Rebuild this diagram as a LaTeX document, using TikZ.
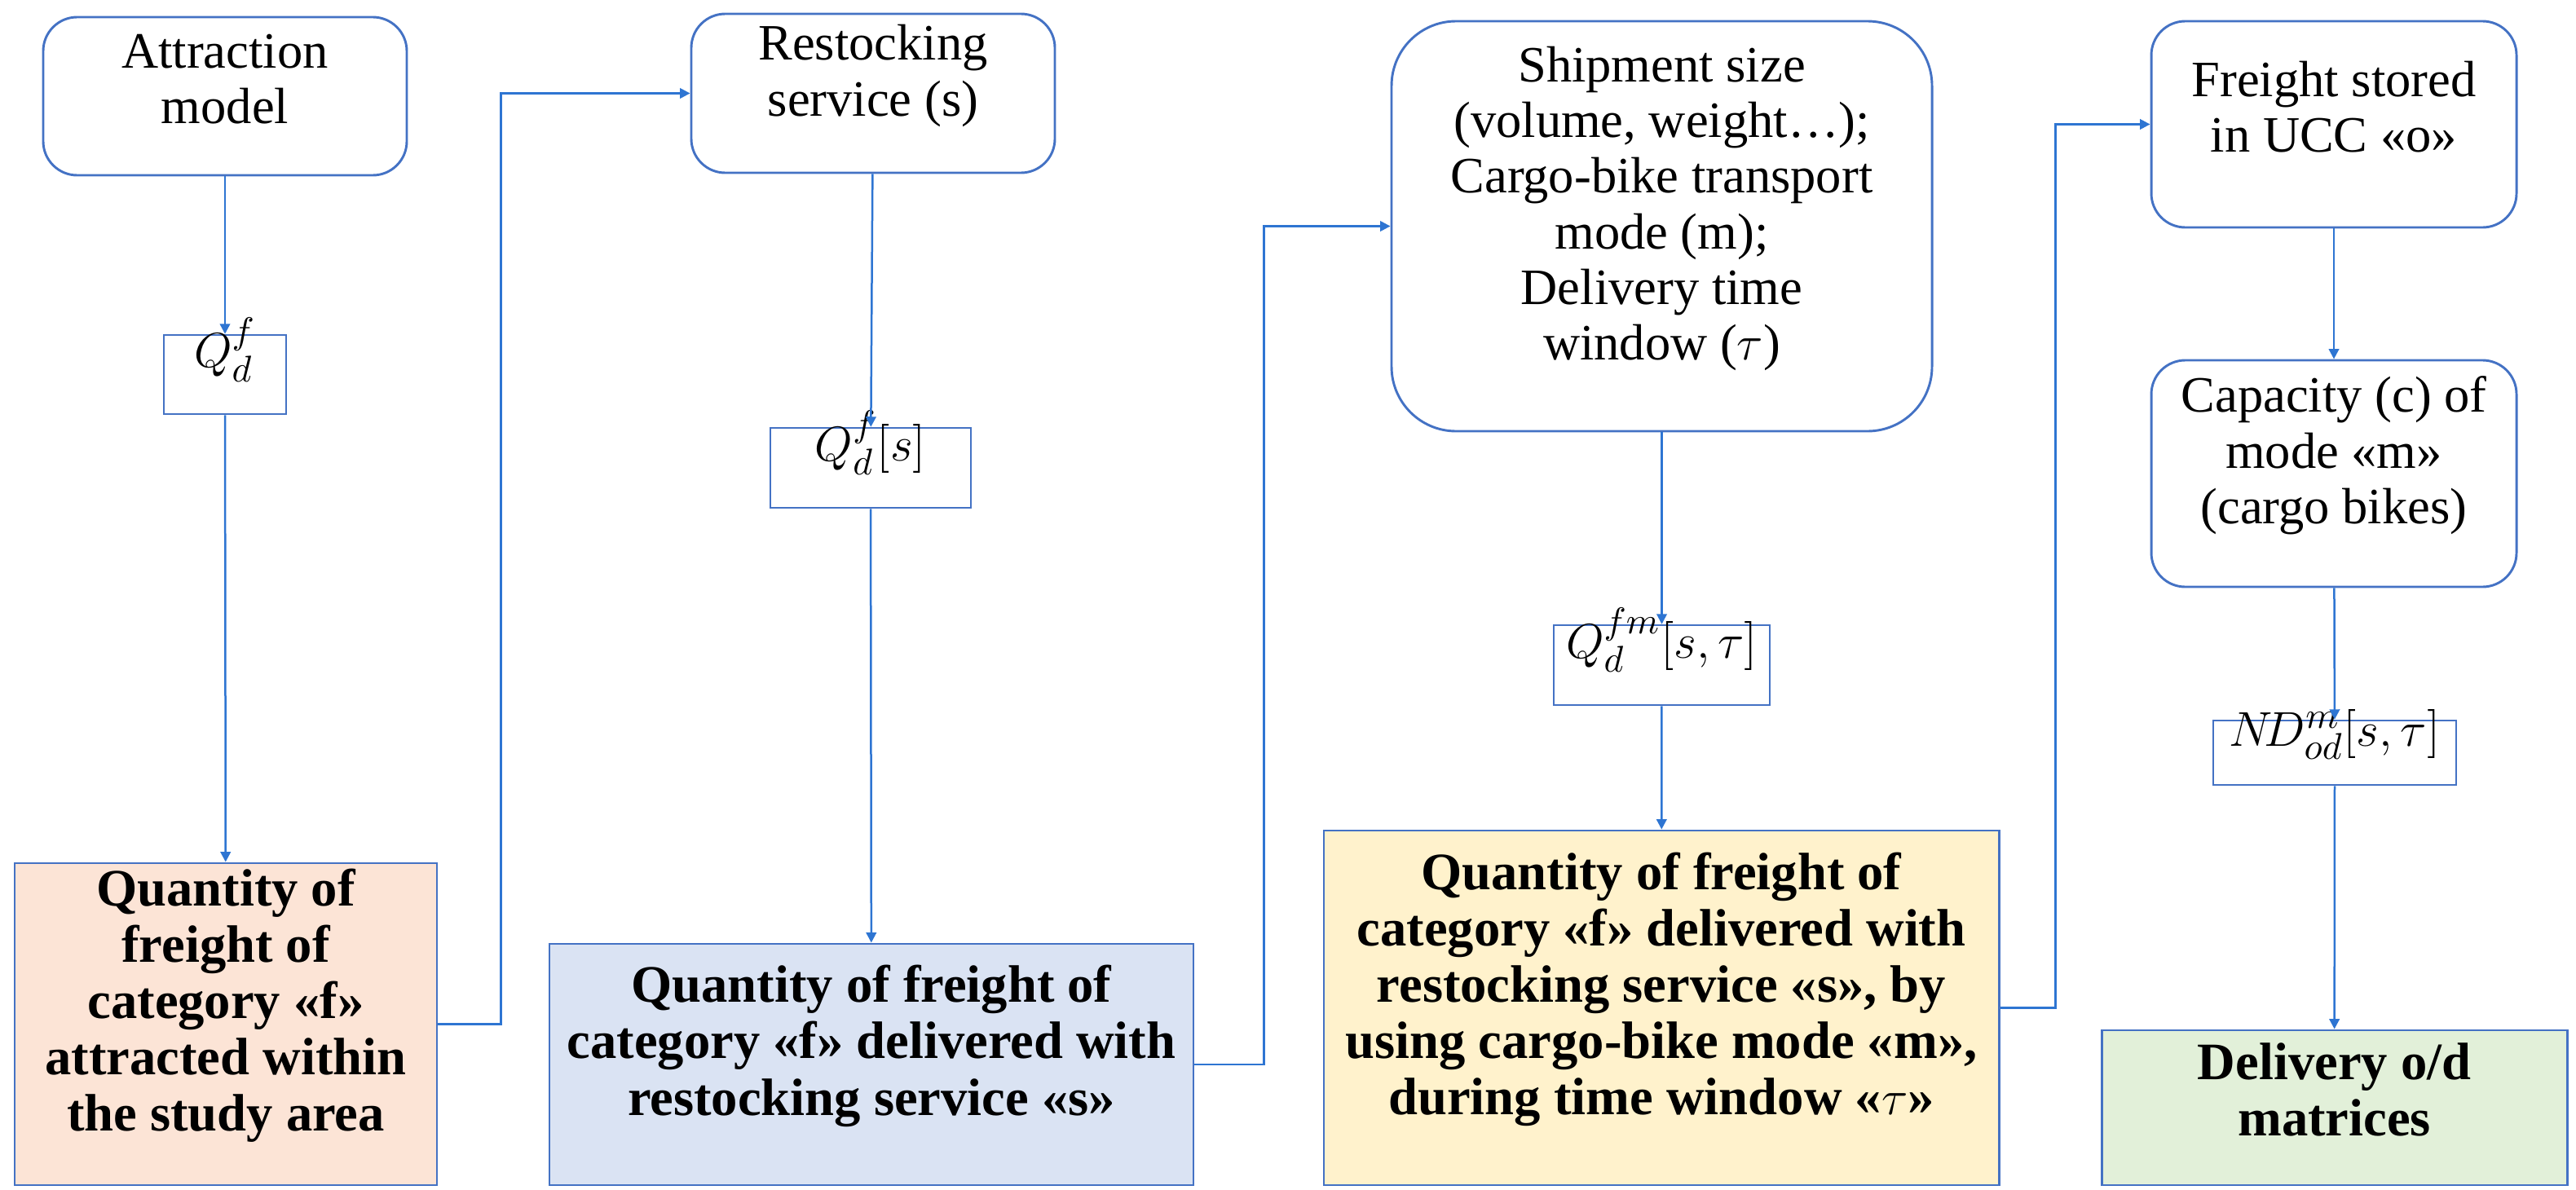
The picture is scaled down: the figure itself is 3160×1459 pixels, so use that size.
\documentclass[tikz,border=0pt]{standalone}
\usepackage{fontspec}
\setmainfont{Liberation Serif}
\usetikzlibrary{fit,arrows.meta}
\definecolor{bd}{HTML}{4472C4}
\definecolor{ar}{HTML}{2E75D2}
\definecolor{c1}{HTML}{FCE4D6}
\definecolor{c2}{HTML}{DAE3F3}
\definecolor{c3}{HTML}{FFF2CC}
\definecolor{c4}{HTML}{E2F0D9}
\tikzset{
  base/.style={inner sep=0pt, draw=bd, line width=0.7pt, align=center,
     font=\fontsize{15}{16.4}\selectfont},
  rbox/.style={base, rounded corners=10pt},
  mbox/.style={base, font=\fontsize{15}{16}\selectfont, line width=0.6pt},
  res/.style={base, font=\fontsize{15.5}{16.6}\selectfont\bfseries},
  arr/.style={draw=ar, line width=0.6pt, -{Triangle[length=3pt,width=3pt]}}
}
\begin{document}
\begin{tikzpicture}[x=0.24pt,y=-0.24pt]
\useasboundingbox (0,0) rectangle (3160,1459);
\node[rbox, fit={(53,21) (499,215)}] (att) {Attraction\\model};
\node[mbox, fit={(201,411) (351,508)}] (q1) {$Q_d^f$};
\node[res, fill=c1, fit={(18,1059) (536,1454)}] (o1) {Quantity of\\freight of\\category «f»\\attracted within\\the study area};
\node[rbox, fit={(848,17) (1294,212)}] (rst) {Restocking\\service (s)};
\node[mbox, fit={(945,525) (1191,623)}] (q2) {$Q_d^f[s]$};
\node[res, fill=c2, fit={(674,1158) (1464,1454)}] (o2) {Quantity of freight of\\category «f» delivered with\\restocking service «s»};
\node[rbox, rounded corners=19pt, fit={(1707,26) (2370,529)}] (shp) {Shipment size\\(volume, weight…);\\Cargo-bike transport\\mode (m);\\Delivery time\\window ($\tau$)};
\node[mbox, fit={(1906,767) (2171,865)}] (q3) {$Q_d^{fm}[s,\tau]$};
\node[res, fill=c3, fit={(1624,1019) (2452,1454)}] (o3) {Quantity of freight of\\category «f» delivered with\\restocking service «s», by\\using cargo-bike mode «m»,\\during time window «$\tau$»};
\node[rbox, fit={(2639,26) (3087,279)}] (frs) {Freight stored\\in UCC «o»};
\node[rbox, fit={(2639,442) (3087,720)}] (cap) {Capacity (c) of\\mode «m»\\(cargo bikes)};
\node[mbox, fit={(2715,884) (3013,963)}] (q4) {$N\!D_{od}^m[s,\tau]$};
\node[res, fill=c4, fit={(2578,1264) (3149,1454)}] (o4) {Delivery o/d\\matrices};
\draw[arr] (att) -- (q1);
\draw[arr] (q1) -- (o1);
\draw[arr] (rst) -- (q2);
\draw[arr] (q2) -- (o2);
\draw[arr] (shp) -- (q3);
\draw[arr] (q3) -- (o3);
\draw[arr] (frs) -- (cap);
\draw[arr] (cap) -- (q4);
\draw[arr] (q4) -- (o4);
\draw[arr] (o1.east) -- ++(77,0) |- (rst.west);
\draw[arr] (o2.east) -- ++(85,0) |- (shp.west);
\draw[arr] (o3.east) -- ++(68,0) |- (frs.west);
\end{tikzpicture}
\end{document}
